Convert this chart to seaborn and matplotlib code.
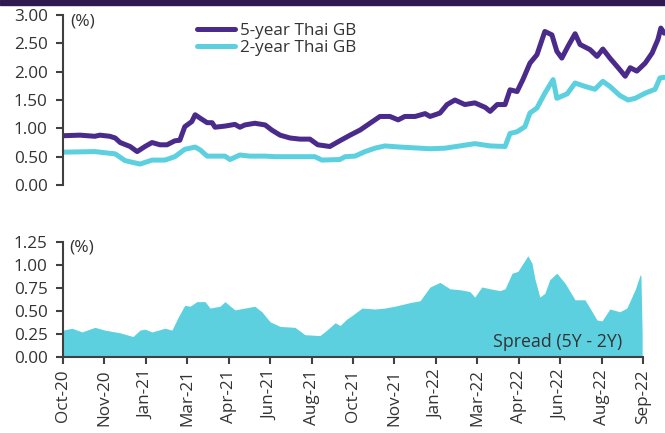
import matplotlib
matplotlib.use("Agg")
import matplotlib.pyplot as plt
from matplotlib.patches import Rectangle
import seaborn as sns
import pandas as pd

# x positions are in tick units (0 = Oct-20 ... 14 = Sep-22)
x_5y = [0.00, 0.41, 0.77, 0.89, 1.13, 1.26, 1.38, 1.62, 1.79, 1.98, 2.15, 2.34, 2.51, 2.70,
        2.82, 2.94, 3.11, 3.19, 3.31, 3.48, 3.60, 3.67, 3.91, 4.15, 4.27, 4.39, 4.63, 4.88,
        5.04, 5.24, 5.48, 5.72, 5.96, 6.15, 6.44, 6.68, 6.93, 7.17, 7.41, 7.65, 7.89, 8.09,
        8.25, 8.50, 8.74, 8.86, 9.10, 9.27, 9.46, 9.70, 9.94, 10.19, 10.31, 10.48, 10.67,
        10.79, 10.96, 11.10, 11.27, 11.44, 11.63, 11.80, 11.92, 12.04, 12.19, 12.36, 12.48,
        12.72, 12.89, 13.03, 13.20, 13.40, 13.57, 13.69, 13.85, 14.05, 14.22, 14.36, 14.43,
        14.51]
y_5y = [0.87, 0.88, 0.86, 0.88, 0.86, 0.83, 0.75, 0.68, 0.59, 0.68, 0.75, 0.71, 0.71, 0.78,
        0.79, 1.03, 1.12, 1.24, 1.18, 1.10, 1.10, 1.02, 1.04, 1.07, 1.02, 1.06, 1.09, 1.06,
        0.97, 0.88, 0.83, 0.81, 0.81, 0.71, 0.68, 0.78, 0.88, 0.97, 1.09, 1.21, 1.21, 1.15,
        1.21, 1.21, 1.26, 1.21, 1.27, 1.42, 1.50, 1.42, 1.45, 1.37, 1.30, 1.42, 1.42,
        1.68, 1.65, 1.86, 2.15, 2.30, 2.71, 2.65, 2.36, 2.24, 2.45, 2.67, 2.48,
        2.39, 2.27, 2.40, 2.24, 2.07, 1.92, 2.07, 2.01, 2.15, 2.33, 2.57, 2.77,
        2.68]

x_2y = [0.00, 0.77, 1.13, 1.26, 1.50, 1.86, 2.15, 2.46, 2.70, 2.94, 3.19, 3.31, 3.48, 3.91,
        4.03, 4.27, 4.51, 4.88, 5.12, 5.72, 6.08, 6.25, 6.68, 6.81, 7.05, 7.29, 7.53, 7.77,
        8.13, 8.62, 8.86, 9.22, 9.58, 9.94, 10.31, 10.67, 10.79, 10.96, 11.15, 11.27, 11.44,
        11.63, 11.83, 11.92, 12.17, 12.36, 12.60, 12.84, 13.03, 13.20, 13.44, 13.64, 13.81,
        14.05, 14.29, 14.41, 14.51]
y_2y = [0.58, 0.59, 0.56, 0.55, 0.43, 0.37, 0.44, 0.44, 0.50, 0.63, 0.67, 0.62, 0.51, 0.51,
        0.45, 0.53, 0.51, 0.51, 0.50, 0.50, 0.50, 0.44, 0.45, 0.50, 0.51, 0.59, 0.65, 0.69,
        0.67, 0.65, 0.64, 0.65, 0.69, 0.73, 0.69, 0.68, 0.91, 0.94, 1.03, 1.27, 1.36,
        1.62, 1.86, 1.53, 1.61, 1.80, 1.74, 1.69, 1.83, 1.74, 1.58, 1.50, 1.53,
        1.62, 1.69, 1.89, 1.90]

x_spread = [0.00, 0.22, 0.46, 0.77, 1.01, 1.38, 1.69, 1.86, 1.98, 2.15, 2.46, 2.63, 2.78, 2.94,
            3.07, 3.23, 3.43, 3.55, 3.79, 3.91, 4.15, 4.39, 4.63, 4.80, 5.00, 5.24, 5.60,
            5.84, 6.20, 6.37, 6.57, 6.69, 6.85, 6.98, 7.22, 7.53, 7.77, 8.01, 8.38, 8.62,
            8.86, 9.10, 9.34, 9.58, 9.82, 9.94, 10.11, 10.31, 10.55, 10.67, 10.84, 10.98,
            11.15, 11.22, 11.32, 11.39, 11.51, 11.63, 11.75, 11.92, 12.12, 12.36, 12.60,
            12.72, 12.89, 13.01, 13.20, 13.44, 13.61, 13.81, 13.93, 13.95, 13.98]
y_spread = [0.29, 0.31, 0.27, 0.32, 0.29, 0.26, 0.22, 0.29, 0.30, 0.27, 0.31, 0.29, 0.43, 0.56,
            0.55, 0.60, 0.60, 0.53, 0.55, 0.60, 0.51, 0.53, 0.55, 0.49, 0.38, 0.33, 0.32,
            0.24, 0.23, 0.29, 0.37, 0.34, 0.41, 0.45, 0.53, 0.52, 0.53, 0.55, 0.59, 0.61,
            0.76, 0.81, 0.74, 0.73, 0.71, 0.65, 0.76, 0.74, 0.72, 0.74, 0.91, 0.93,
            1.05, 1.10, 1.02, 0.85, 0.65, 0.69, 0.84, 0.91, 0.80, 0.62, 0.62,
            0.53, 0.40, 0.39, 0.52, 0.49, 0.53, 0.73, 0.89, 0.89, 0.25]

tick_labels = ["Oct-20", "Nov-20", "Jan-21", "Mar-21", "Apr-21", "Jun-21", "Aug-21",
               "Oct-21", "Nov-21", "Jan-22", "Mar-22", "Apr-22", "Jun-22", "Aug-22", "Sep-22"]

purple = "#4a2a8b"
cyan = "#5dd0e0"
text_col = "#333333"

sns.set_theme(style="white")
plt.rcParams["font.family"] = ["Open Sans", "DejaVu Sans"]
fs = 12.3

fig = plt.figure(figsize=(6.65, 4.33), dpi=100)

# dark band across the top
fig.add_artist(Rectangle((0, 0.989), 1, 0.011, transform=fig.transFigure,
                         color="#2e1a4f", zorder=5))

ax1 = fig.add_axes([0.0947, 0.5727, 0.9053, 0.3926])
ax2 = fig.add_axes([0.0947, 0.1762, 0.8722, 0.2649])

df5 = pd.DataFrame({"x": x_5y, "y": y_5y})
df2 = pd.DataFrame({"x": x_2y, "y": y_2y})
sns.lineplot(data=df5, x="x", y="y", ax=ax1, color=purple, lw=3.6, label="5-year Thai GB")
sns.lineplot(data=df2, x="x", y="y", ax=ax1, color=cyan, lw=3.6, label="2-year Thai GB")

ax1.set_xlim(0, 14.53)
ax1.set_ylim(0, 3.0)
ax1.set_yticks([0, 0.5, 1.0, 1.5, 2.0, 2.5, 3.0])
ax1.set_yticklabels([f"{v:.2f}" for v in [0, 0.5, 1.0, 1.5, 2.0, 2.5, 3.0]])
ax1.set_xticks([])
ax1.set_xlabel("")
ax1.set_ylabel("")
for s in ["top", "right", "bottom"]:
    ax1.spines[s].set_visible(False)
ax1.text(0.012, 1.01, "(%)", transform=ax1.transAxes, ha="left", va="top",
         color=text_col, fontsize=12.5)
ax1.legend(loc="upper left", bbox_to_anchor=(0.197, 1.045), frameon=False,
           handlelength=2.2, handletextpad=0.3, labelspacing=0.1, fontsize=fs,
           labelcolor=text_col)

ax2.fill_between(x_spread, y_spread, 0, color=cyan, lw=0)
ax2.set_xlim(0, 14)
ax2.set_ylim(0, 1.25)
ax2.set_yticks([0, 0.25, 0.5, 0.75, 1.0, 1.25])
ax2.set_yticklabels([f"{v:.2f}" for v in [0, 0.25, 0.5, 0.75, 1.0, 1.25]])
ax2.set_xticks(range(len(tick_labels)))
ax2.set_xticklabels(tick_labels, rotation=90)
for s in ["top", "right"]:
    ax2.spines[s].set_visible(False)
ax2.text(0.01, 1.02, "(%)", transform=ax2.transAxes, ha="left", va="top",
         color=text_col, fontsize=12.5)
ax2.text(0.965, 0.05, "Spread (5Y - 2Y)", transform=ax2.transAxes, ha="right",
         va="bottom", color=text_col, fontsize=12.8)

for ax in (ax1, ax2):
    for s in ax.spines.values():
        s.set_color("#404040")
        s.set_linewidth(1.5)
    ax.tick_params(axis="both", direction="out", length=5, width=1.5, color="#404040",
                   labelcolor=text_col, labelsize=fs, left=True, bottom=True, pad=6)
ax1.tick_params(axis="x", bottom=False)
ax2.tick_params(axis="x", pad=4)

fig.savefig("out.png", dpi=100)
